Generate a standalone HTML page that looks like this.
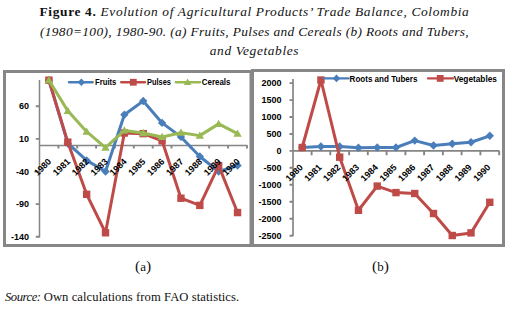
<!DOCTYPE html>
<html><head><meta charset="utf-8"><style>
html,body{margin:0;padding:0;background:#fff;}
body{width:509px;height:310px;position:relative;overflow:hidden;}
.t{position:absolute;left:0;width:509px;text-align:center;font-family:"Liberation Serif",serif;font-size:13px;color:#111;white-space:nowrap;line-height:1;}
.t i{font-style:italic}
svg text{font-family:"Liberation Sans",sans-serif;font-weight:bold;fill:#000;}
.pr{font-size:15.5px;}
.lab{position:absolute;font-family:"Liberation Serif",serif;font-size:13px;color:#111;white-space:nowrap;line-height:1;}
</style></head><body>
<div class="t" style="top:5.2px;font-size:13.4px;letter-spacing:0.65px"><b>Figure 4.</b> <i>Evolution of Agricultural Products’ Trade Balance, Colombia</i></div>
<div class="t" style="top:24.6px;font-size:13.4px;letter-spacing:0.35px"><i>(1980=100), 1980-90. (a) Fruits, Pulses and Cereals (b) Roots and Tubers,</i></div>
<div class="t" style="top:43.7px;font-size:13.4px;letter-spacing:0.62px"><i>and Vegetables</i></div>
<svg width="509" height="310" style="position:absolute;left:0;top:0">
<rect x="4.5" y="71.5" width="246.5" height="174" fill="none" stroke="#878787" stroke-width="3"/>
<rect x="252.5" y="70.5" width="251" height="175" fill="none" stroke="#878787" stroke-width="3"/>
<path d="M39.5,80V237.6M247.5,145.4H39" stroke="#858585" stroke-width="1.5" fill="none"/>
<path d="M35.8,106.3H39.5M35.8,138.9H39.5M35.8,171.5H39.5M35.8,204.1H39.5M35.8,236.7H39.5M58.4,145.4V148.6M77.2,145.4V148.6M96.1,145.4V148.6M114.9,145.4V148.6M133.8,145.4V148.6M152.7,145.4V148.6M171.5,145.4V148.6M190.4,145.4V148.6M209.2,145.4V148.6M228.1,145.4V148.6M247.0,145.4V148.6" stroke="#858585" stroke-width="1.9" fill="none"/>
<text x="29.0" y="109.48" font-size="9" text-anchor="end">60</text>
<text x="29.0" y="142.07999999999998" font-size="9" text-anchor="end">10</text>
<text x="29.0" y="174.68" font-size="9" text-anchor="end">-40</text>
<text x="29.0" y="207.28" font-size="9" text-anchor="end">-90</text>
<text x="29.0" y="239.88" font-size="9" text-anchor="end">-140</text>
<polyline points="48.93,80.20 67.79,143.44 86.65,160.40 105.51,171.48 124.37,114.76 143.23,101.06 162.09,122.91 180.95,136.92 199.81,156.48 218.67,171.48 237.53,165.61" fill="none" stroke="#4a7ebb" stroke-width="3" stroke-linejoin="round" stroke-linecap="round"/>
<path d="M48.93,76.00L53.13,80.20L48.93,84.40L44.73,80.20Z" fill="#4a7ebb"/>
<path d="M67.79,139.24L71.99,143.44L67.79,147.64L63.59,143.44Z" fill="#4a7ebb"/>
<path d="M86.65,156.20L90.85,160.40L86.65,164.60L82.45,160.40Z" fill="#4a7ebb"/>
<path d="M105.51,167.28L109.71,171.48L105.51,175.68L101.31,171.48Z" fill="#4a7ebb"/>
<path d="M124.37,110.56L128.57,114.76L124.37,118.96L120.17,114.76Z" fill="#4a7ebb"/>
<path d="M143.23,96.86L147.43,101.06L143.23,105.26L139.03,101.06Z" fill="#4a7ebb"/>
<path d="M162.09,118.71L166.29,122.91L162.09,127.11L157.89,122.91Z" fill="#4a7ebb"/>
<path d="M180.95,132.72L185.15,136.92L180.95,141.12L176.75,136.92Z" fill="#4a7ebb"/>
<path d="M199.81,152.28L204.01,156.48L199.81,160.68L195.61,156.48Z" fill="#4a7ebb"/>
<path d="M218.67,167.28L222.87,171.48L218.67,175.68L214.47,171.48Z" fill="#4a7ebb"/>
<path d="M237.53,161.41L241.73,165.61L237.53,169.81L233.33,165.61Z" fill="#4a7ebb"/>
<polyline points="48.93,80.20 67.79,142.14 86.65,194.30 105.51,232.77 124.37,133.01 143.23,133.66 162.09,140.84 180.95,198.21 199.81,205.38 218.67,165.61 237.53,212.56" fill="none" stroke="#be4b48" stroke-width="3" stroke-linejoin="round" stroke-linecap="round"/>
<rect x="45.23" y="76.50" width="7.40" height="7.40" fill="#be4b48"/>
<rect x="64.09" y="138.44" width="7.40" height="7.40" fill="#be4b48"/>
<rect x="82.95" y="190.60" width="7.40" height="7.40" fill="#be4b48"/>
<rect x="101.81" y="229.07" width="7.40" height="7.40" fill="#be4b48"/>
<rect x="120.67" y="129.31" width="7.40" height="7.40" fill="#be4b48"/>
<rect x="139.53" y="129.96" width="7.40" height="7.40" fill="#be4b48"/>
<rect x="158.39" y="137.14" width="7.40" height="7.40" fill="#be4b48"/>
<rect x="177.25" y="194.51" width="7.40" height="7.40" fill="#be4b48"/>
<rect x="196.11" y="201.68" width="7.40" height="7.40" fill="#be4b48"/>
<rect x="214.97" y="161.91" width="7.40" height="7.40" fill="#be4b48"/>
<rect x="233.83" y="208.86" width="7.40" height="7.40" fill="#be4b48"/>
<polyline points="48.93,80.20 67.79,110.84 86.65,131.71 105.51,147.68 124.37,130.40 143.23,133.01 162.09,136.92 180.95,132.69 199.81,135.62 218.67,123.88 237.53,133.66" fill="none" stroke="#98b954" stroke-width="3" stroke-linejoin="round" stroke-linecap="round"/>
<path d="M48.93,76.00L53.13,83.35L44.73,83.35Z" fill="#98b954"/>
<path d="M67.79,106.64L71.99,113.99L63.59,113.99Z" fill="#98b954"/>
<path d="M86.65,127.51L90.85,134.86L82.45,134.86Z" fill="#98b954"/>
<path d="M105.51,143.48L109.71,150.83L101.31,150.83Z" fill="#98b954"/>
<path d="M124.37,126.20L128.57,133.55L120.17,133.55Z" fill="#98b954"/>
<path d="M143.23,128.81L147.43,136.16L139.03,136.16Z" fill="#98b954"/>
<path d="M162.09,132.72L166.29,140.07L157.89,140.07Z" fill="#98b954"/>
<path d="M180.95,128.49L185.15,135.84L176.75,135.84Z" fill="#98b954"/>
<path d="M199.81,131.42L204.01,138.77L195.61,138.77Z" fill="#98b954"/>
<path d="M218.67,119.68L222.87,127.03L214.47,127.03Z" fill="#98b954"/>
<path d="M237.53,129.46L241.73,136.81L233.33,136.81Z" fill="#98b954"/>
<text transform="translate(49.7,160.0) rotate(-45)" x="0" y="3" font-size="9" text-anchor="end">1980</text>
<text transform="translate(68.6,160.0) rotate(-45)" x="0" y="3" font-size="9" text-anchor="end">1981</text>
<text transform="translate(87.5,160.0) rotate(-45)" x="0" y="3" font-size="9" text-anchor="end">1982</text>
<text transform="translate(106.3,160.0) rotate(-45)" x="0" y="3" font-size="9" text-anchor="end">1983</text>
<text transform="translate(125.2,160.0) rotate(-45)" x="0" y="3" font-size="9" text-anchor="end">1984</text>
<text transform="translate(144.0,160.0) rotate(-45)" x="0" y="3" font-size="9" text-anchor="end">1985</text>
<text transform="translate(162.9,160.0) rotate(-45)" x="0" y="3" font-size="9" text-anchor="end">1986</text>
<text transform="translate(181.8,160.0) rotate(-45)" x="0" y="3" font-size="9" text-anchor="end">1987</text>
<text transform="translate(200.6,160.0) rotate(-45)" x="0" y="3" font-size="9" text-anchor="end">1988</text>
<text transform="translate(219.5,160.0) rotate(-45)" x="0" y="3" font-size="9" text-anchor="end">1989</text>
<text transform="translate(238.3,160.0) rotate(-45)" x="0" y="3" font-size="9" text-anchor="end">1990</text>
<polyline points="68.90,82.25 92.80,82.25" fill="none" stroke="#4a7ebb" stroke-width="2.3" stroke-linejoin="round" stroke-linecap="round"/>
<path d="M81.40,78.45L85.20,82.25L81.40,86.05L77.60,82.25Z" fill="#4a7ebb"/>
<text x="95.0" y="84.85" font-size="8.3" text-anchor="start" textLength="21.4" lengthAdjust="spacingAndGlyphs">Fruits</text>
<polyline points="121.10,82.25 145.00,82.25" fill="none" stroke="#be4b48" stroke-width="2.3" stroke-linejoin="round" stroke-linecap="round"/>
<rect x="129.90" y="78.85" width="6.80" height="6.80" fill="#be4b48"/>
<text x="147.0" y="84.85" font-size="8.3" text-anchor="start" textLength="24.0" lengthAdjust="spacingAndGlyphs">Pulses</text>
<polyline points="175.70,82.25 200.20,82.25" fill="none" stroke="#98b954" stroke-width="2.3" stroke-linejoin="round" stroke-linecap="round"/>
<path d="M187.60,78.45L191.40,85.10L183.80,85.10Z" fill="#98b954"/>
<text x="201.8" y="84.85" font-size="8.3" text-anchor="start" textLength="28.6" lengthAdjust="spacingAndGlyphs">Cereals</text>
<path d="M293,79V236M499.2,150.8H293" stroke="#858585" stroke-width="1.7" fill="none"/>
<path d="M289.5,83.1H293M289.5,100.1H293M289.5,117.0H293M289.5,134.0H293M289.5,150.9H293M289.5,167.8H293M289.5,184.8H293M289.5,201.8H293M289.5,218.7H293M289.5,235.7H293M311.6,150.8V155.2M330.3,150.8V155.2M349.1,150.8V155.2M367.8,150.8V155.2M386.6,150.8V155.2M405.4,150.8V155.2M424.1,150.8V155.2M442.9,150.8V155.2M461.6,150.8V155.2M480.4,150.8V155.2M499.2,150.8V155.2" stroke="#858585" stroke-width="1.9" fill="none"/>
<text x="281.6" y="86.30000000000001" font-size="9" text-anchor="end">2000</text>
<text x="281.6" y="103.25000000000001" font-size="9" text-anchor="end">1500</text>
<text x="281.6" y="120.2" font-size="9" text-anchor="end">1000</text>
<text x="281.6" y="137.15" font-size="9" text-anchor="end">500</text>
<text x="281.6" y="154.1" font-size="9" text-anchor="end">0</text>
<text x="281.6" y="171.04999999999998" font-size="9" text-anchor="end">-500</text>
<text x="281.6" y="188.0" font-size="9" text-anchor="end">-1000</text>
<text x="281.6" y="204.95" font-size="9" text-anchor="end">-1500</text>
<text x="281.6" y="221.89999999999998" font-size="9" text-anchor="end">-2000</text>
<text x="281.6" y="238.85" font-size="9" text-anchor="end">-2500</text>
<polyline points="302.18,147.51 320.94,146.49 339.70,146.49 358.46,147.71 377.22,147.51 395.98,147.51 414.74,140.59 433.50,145.48 452.26,143.81 471.02,142.29 489.78,135.81" fill="none" stroke="#4a7ebb" stroke-width="3" stroke-linejoin="round" stroke-linecap="round"/>
<path d="M302.18,143.31L306.38,147.51L302.18,151.71L297.98,147.51Z" fill="#4a7ebb"/>
<path d="M320.94,142.29L325.14,146.49L320.94,150.69L316.74,146.49Z" fill="#4a7ebb"/>
<path d="M339.70,142.29L343.90,146.49L339.70,150.69L335.50,146.49Z" fill="#4a7ebb"/>
<path d="M358.46,143.51L362.66,147.71L358.46,151.91L354.26,147.71Z" fill="#4a7ebb"/>
<path d="M377.22,143.31L381.42,147.51L377.22,151.71L373.02,147.51Z" fill="#4a7ebb"/>
<path d="M395.98,143.31L400.18,147.51L395.98,151.71L391.78,147.51Z" fill="#4a7ebb"/>
<path d="M414.74,136.39L418.94,140.59L414.74,144.79L410.54,140.59Z" fill="#4a7ebb"/>
<path d="M433.50,141.28L437.70,145.48L433.50,149.68L429.30,145.48Z" fill="#4a7ebb"/>
<path d="M452.26,139.61L456.46,143.81L452.26,148.01L448.06,143.81Z" fill="#4a7ebb"/>
<path d="M471.02,138.09L475.22,142.29L471.02,146.49L466.82,142.29Z" fill="#4a7ebb"/>
<path d="M489.78,131.61L493.98,135.81L489.78,140.01L485.58,135.81Z" fill="#4a7ebb"/>
<polyline points="302.18,147.51 320.94,80.02 339.70,157.17 358.46,210.29 377.22,186.09 395.98,192.60 414.74,193.51 433.50,213.51 452.26,235.51 471.02,232.90 489.78,202.29" fill="none" stroke="#be4b48" stroke-width="3" stroke-linejoin="round" stroke-linecap="round"/>
<rect x="298.48" y="143.81" width="7.40" height="7.40" fill="#be4b48"/>
<rect x="317.24" y="76.32" width="7.40" height="7.40" fill="#be4b48"/>
<rect x="336.00" y="153.47" width="7.40" height="7.40" fill="#be4b48"/>
<rect x="354.76" y="206.59" width="7.40" height="7.40" fill="#be4b48"/>
<rect x="373.52" y="182.39" width="7.40" height="7.40" fill="#be4b48"/>
<rect x="392.28" y="188.90" width="7.40" height="7.40" fill="#be4b48"/>
<rect x="411.04" y="189.81" width="7.40" height="7.40" fill="#be4b48"/>
<rect x="429.80" y="209.81" width="7.40" height="7.40" fill="#be4b48"/>
<rect x="448.56" y="231.81" width="7.40" height="7.40" fill="#be4b48"/>
<rect x="467.32" y="229.20" width="7.40" height="7.40" fill="#be4b48"/>
<rect x="486.08" y="198.59" width="7.40" height="7.40" fill="#be4b48"/>
<text transform="translate(301.4,165.8) rotate(-45)" x="0" y="3" font-size="9" text-anchor="end">1980</text>
<text transform="translate(320.1,165.8) rotate(-45)" x="0" y="3" font-size="9" text-anchor="end">1981</text>
<text transform="translate(338.9,165.8) rotate(-45)" x="0" y="3" font-size="9" text-anchor="end">1982</text>
<text transform="translate(357.7,165.8) rotate(-45)" x="0" y="3" font-size="9" text-anchor="end">1983</text>
<text transform="translate(376.4,165.8) rotate(-45)" x="0" y="3" font-size="9" text-anchor="end">1984</text>
<text transform="translate(395.2,165.8) rotate(-45)" x="0" y="3" font-size="9" text-anchor="end">1985</text>
<text transform="translate(413.9,165.8) rotate(-45)" x="0" y="3" font-size="9" text-anchor="end">1986</text>
<text transform="translate(432.7,165.8) rotate(-45)" x="0" y="3" font-size="9" text-anchor="end">1987</text>
<text transform="translate(451.5,165.8) rotate(-45)" x="0" y="3" font-size="9" text-anchor="end">1988</text>
<text transform="translate(470.2,165.8) rotate(-45)" x="0" y="3" font-size="9" text-anchor="end">1989</text>
<text transform="translate(489.0,165.8) rotate(-45)" x="0" y="3" font-size="9" text-anchor="end">1990</text>
<polyline points="324.00,78.40 348.60,78.40" fill="none" stroke="#4a7ebb" stroke-width="2.3" stroke-linejoin="round" stroke-linecap="round"/>
<path d="M336.50,74.60L340.30,78.40L336.50,82.20L332.70,78.40Z" fill="#4a7ebb"/>
<text x="349.6" y="81.8" font-size="8.3" text-anchor="start" textLength="67.8" lengthAdjust="spacingAndGlyphs">Roots and Tubers</text>
<polyline points="428.00,78.40 453.00,78.40" fill="none" stroke="#be4b48" stroke-width="2.3" stroke-linejoin="round" stroke-linecap="round"/>
<rect x="436.80" y="75.00" width="6.80" height="6.80" fill="#be4b48"/>
<text x="453.7" y="81.8" font-size="8.3" text-anchor="start" textLength="43.2" lengthAdjust="spacingAndGlyphs">Vegetables</text>
</svg>
<div class="lab" style="left:135px;top:258.2px"><span class="pr">(</span>a<span class="pr">)</span></div>
<div class="lab" style="left:372px;top:258.2px"><span class="pr">(</span>b<span class="pr">)</span></div>
<div class="lab" style="left:5px;top:290.5px;font-size:12.6px"><i style="letter-spacing:-0.45px">Source:</i> <span style="letter-spacing:0.08px">Own calculations from FAO statistics.</span></div>
</body></html>
